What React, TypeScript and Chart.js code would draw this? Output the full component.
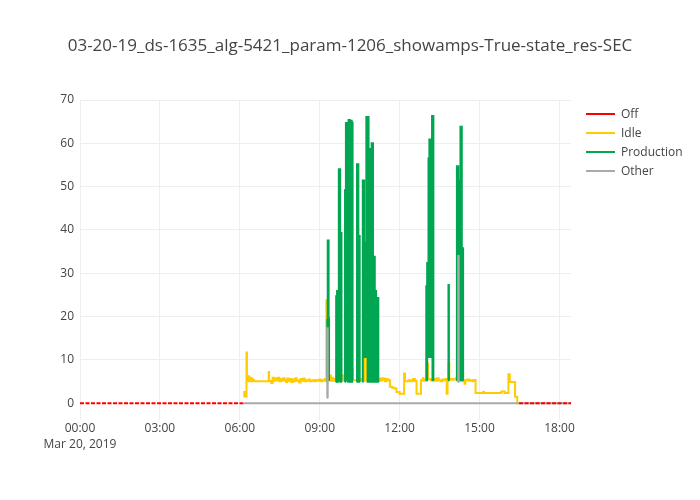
import React, { useEffect, useRef } from "react";
import { Chart, registerables } from "chart.js";

Chart.register(...registerables);

const TITLE = "03-20-19_ds-1635_alg-5421_param-1206_showamps-True-state_res-SEC";
const FONT = '"Open Sans", "Noto Sans", sans-serif';

const seriesNames = ["Off", "Idle", "Production", "Other"];
const seriesColors = ["#ff0000", "#ffcc00", "#00a651", "#aaaaaa"];

// x in minutes since 2019-03-20 00:00
const xTickValues = [0, 180, 360, 540, 720, 900, 1080];
const xTickLabels: (string | string[])[] = [["00:00", "Mar 20, 2019"], "03:00", "06:00", "09:00", "12:00", "15:00", "18:00"];
const yTickValues = [0, 10, 20, 30, 40, 50, 60, 70];

// Off
const offTimes = [0, 367, 368, 989, 1106];
const offValues = [0, 0, null, 0, 0];

// Idle
const idleTimes = [
  369, 370, 371, 372, 373, 375, 376, 377, 378, 379, 381, 382, 384, 386, 388, 390, 392, 425, 426,
  428, 431, 434, 437, 440, 443, 446, 449, 452, 455, 458, 461, 464, 467, 470, 473, 476, 479, 482, 485,
  488, 491, 494, 497, 500, 503, 506, 509, 512, 515, 518, 521, 524, 527, 530, 533, 536, 539, 542, 545,
  548, 551, 554, 555, 557, 561, 563, 565, 568, 570, 574, 576, 584, 586, 588, 591, 593, 598, 600, 612,
  614, 624, 626, 632, 634, 638, 640, 645, 647, 650, 653, 656, 658, 665, 668, 672, 675, 678, 681, 684,
  687, 690, 693, 696, 698, 703, 708, 713, 720, 730, 732, 740, 745, 750, 754, 758, 768, 772, 774, 778,
  781, 784, 790, 796, 800, 804, 808, 812, 816, 820, 824, 826, 828, 830, 832, 834, 840, 846, 850, 856,
  860, 864, 866, 868, 872, 876, 880, 884, 886, 891, 908, 910, 949, 957, 965, 968, 980, 985, 989,
];
const idleValues = [
  1.5, 2.6, 1.7, 2.6, 1.6, 11.7, 5.2, 6.3, 5.4, 6.2, 5.1, 5.9, 5.2, 5.8, 5.1, 5.4, 5.1, 7.2, 5.1,
  5.2, 4.7, 5.9, 5.2, 5.8, 5.3, 5.9, 5.1, 5.6, 5.2, 5.8, 5.4, 4.9, 5.7, 5.2, 5.6, 4.9, 5.5, 5.1, 5.8,
  5.2, 5.3, 4.8, 5.6, 5.2, 5.7, 5.1, 5.3, 5.2, 5.5, 5.1, 5.2, 5.3, 5.1, 5.4, 5.2, 5.2, 5.5, 5.1, 5.3,
  5.2, 5.6, 5.2, 23.8, 5.3, 5.4, 6.4, 5.2, 5.9, 5.2, 5.6, 5.1, 5.3, 13.2, 5.2, 6.5, 5.3, 8.2, 5.2, 7.9,
  5.3, 9.9, 5.3, 5.6, 5.2, 10.7, 5.2, 10.7, 5.3, 10.7, 5.2, 10.7, 5.3, 5.5, 5.2, 5.6, 5.2, 5.8, 5.3, 5.7,
  5.1, 5.6, 5.3, 5.4, 3.8, 3.6, 3.4, 2.6, 2.2, 6.9, 5.1, 5.3, 5.1, 5.6, 5.2, 2.2, 5.3, 5.8, 5.2, 5.4,
  9.2, 5.6, 5.3, 5.6, 5.2, 5.8, 5.3, 5.1, 5.5, 5.3, 5.6, 2.2, 5.3, 9.2, 5.4, 5.6, 5.5, 5.8, 5.3, 5.6,
  5.2, 5.3, 4.5, 5.3, 5.5, 5.2, 5.3, 5.1, 5.4, 2.4, 2.6, 2.4, 2.7, 2.4, 6.7, 4.9, 1.5, 0, 0,
];

// Production
const prodTimes = [
  556, 557, 558, 560, 561, 562,
  576, 577, 578, 579, 580, 581, 582, 583, 584, 585, 586, 587, 588, 589, 590,
  596, 597, 598, 599, 600, 601, 602, 603, 604, 605, 606, 607, 608, 609, 610, 611, 612, 613, 614, 615,
  623, 624, 625, 626, 627, 628, 629, 630, 631,
  636, 637, 638, 639, 640, 641, 642, 643, 644, 645, 646, 647, 648, 649, 650, 651, 652, 653, 654, 655,
  656, 657, 658, 659, 660, 661, 662, 663, 664, 665, 666, 667, 668, 669, 670, 671, 672, 673,
  779, 780, 781, 782, 783, 784, 785, 786, 787, 788, 789, 790, 791, 792, 793, 794, 795, 796, 797,
  829, 830, 831, 832,
  848, 849, 850, 851, 852, 853, 854, 855, 856, 857, 858, 859, 860, 861, 862, 863, 864,
];
const prodValues = [
  5.0, 19.2, 37.6, 19.6, 5.2, null,
  5.0, 24.7, 5.5, 25.9, 5.0, 25.9, 5.3, 54.0, 5.2, 54.0, 39.3, 5.0, 39.3, 5.0, null,
  5.0, 49.2, 5.2, 64.7, 6.0, 64.7, 5.5, 64.3, 5.0, 65.4, 6.0, 65.4, 5.0, 65.2, 5.5, 65.2, 5.0, 64.8, 5.3, null,
  5.0, 55.2, 5.3, 55.2, 38.6, 5.0, 38.6, 5.0, null,
  5.0, 51.4, 10.7, 51.4, 19.6, 10.7, 19.6, 37.0, 10.7, 66.1, 10.7, 66.1, 5.0, 66.1, 58.7, 10.7, 58.7, 5.0, 21.0, 10.7,
  21.0, 60.0, 5.0, 60.0, 5.3, 33.8, 5.0, 33.8, 25.9, 5.0, 25.9, 24.3, 5.0, 24.3, 5.0, 24.3, 5.0, null,
  5.3, 27.0, 5.3, 32.4, 10.7, 32.4, 56.5, 10.7, 60.9, 10.7, 60.9, 21.3, 10.7, 21.3, 66.3, 5.3, 66.3, 5.3, null,
  5.3, 27.3, 5.3, null,
  5.3, 54.7, 5.3, 54.7, 51.4, 5.3, 36.9, 5.3, 36.9, 63.8, 5.3, 63.8, 35.8, 5.3, 35.8, 5.3, null,
];

// Other
const otherTimes = [367, 1106, 1107, 556, 557, 558, 559, 851, 852, 853, 854];
const otherValues = [0, 0, null, 1.3, 17.3, 1.3, null, 4.9, 34.0, 4.9, null];

const toPoints = (t: number[], v: (number | null)[]) => t.map((x, i) => ({ x, y: v[i] }));

const overlayPlugin = {
  id: "overlay",
  afterDraw(chart: any) {
    const ctx = chart.ctx as CanvasRenderingContext2D;
    ctx.save();
    ctx.fillStyle = "#444";
    ctx.font = `17px ${FONT}`;
    ctx.textAlign = "center";
    ctx.textBaseline = "alphabetic";
    ctx.fillText(TITLE, 350, 51);
    ctx.font = `12px ${FONT}`;
    ctx.textAlign = "left";
    ctx.textBaseline = "middle";
    seriesNames.forEach((name, i) => {
      const y = 114 + i * 19;
      ctx.strokeStyle = seriesColors[i];
      ctx.lineWidth = 2;
      ctx.beginPath();
      ctx.moveTo(586, y);
      ctx.lineTo(615, y);
      ctx.stroke();
      ctx.fillStyle = "#444";
      ctx.fillText(name, 621, y + 0.5);
    });
    ctx.restore();
  },
};

export default function App() {
  const ref = useRef<HTMLCanvasElement | null>(null);
  useEffect(() => {
    if (!ref.current) return;
    const common = { borderWidth: 2, pointRadius: 0, pointHoverRadius: 0, stepped: true as const, spanGaps: false, fill: false };
    const chart = new Chart(ref.current, {
      type: "line",
      data: {
        datasets: [
          { ...common, label: seriesNames[0], data: toPoints(offTimes, offValues), borderColor: seriesColors[0], borderDash: [4, 1.5], order: 1 },
          { ...common, label: seriesNames[3], data: toPoints(otherTimes, otherValues), borderColor: seriesColors[3], order: 2 },
          { ...common, label: seriesNames[2], data: toPoints(prodTimes, prodValues), borderColor: seriesColors[2], order: 3 },
          { ...common, label: seriesNames[1], data: toPoints(idleTimes, idleValues), borderColor: seriesColors[1], order: 4 },
        ] as any,
      },
      options: {
        responsive: false,
        animation: false,
        parsing: false as any,
        normalized: false,
        layout: { padding: { left: 0, right: 129, top: 100, bottom: 0 } },
        plugins: {
          legend: { display: false },
          title: { display: false },
          tooltip: { enabled: false },
        },
        scales: {
          x: {
            type: "linear",
            min: 0,
            max: 1106,
            afterFit: (s: any) => { s.height = 80; },
            afterBuildTicks: (s: any) => { s.ticks = xTickValues.map((v) => ({ value: v })); },
            grid: { color: "#eee", lineWidth: 1, drawTicks: false },
            border: { display: false },
            ticks: {
              padding: 0,
              color: "#444",
              maxRotation: 0,
              autoSkip: false,
              font: { size: 12, family: FONT, lineHeight: 1.35 },
              callback: (_v: any, i: number) => xTickLabels[i],
            },
          },
          y: {
            type: "linear",
            min: -3.85,
            max: 70,
            afterFit: (s: any) => { s.width = 80; },
            afterBuildTicks: (s: any) => { s.ticks = yTickValues.map((v) => ({ value: v })); },
            grid: { color: "#eee", lineWidth: 1, drawTicks: false },
            border: { display: false },
            ticks: {
              padding: 6,
              color: "#444",
              font: { size: 12, family: FONT },
              callback: (v: any) => String(v),
            },
          },
        },
      },
      plugins: [overlayPlugin],
    });
    return () => chart.destroy();
  }, []);
  return (
    <div style={{ position: "absolute", left: 0, top: 0, width: 700, height: 500, background: "#fff" }}>
      <canvas ref={ref} width={700} height={500} style={{ width: 700, height: 500, display: "block" }} />
    </div>
  );
}
